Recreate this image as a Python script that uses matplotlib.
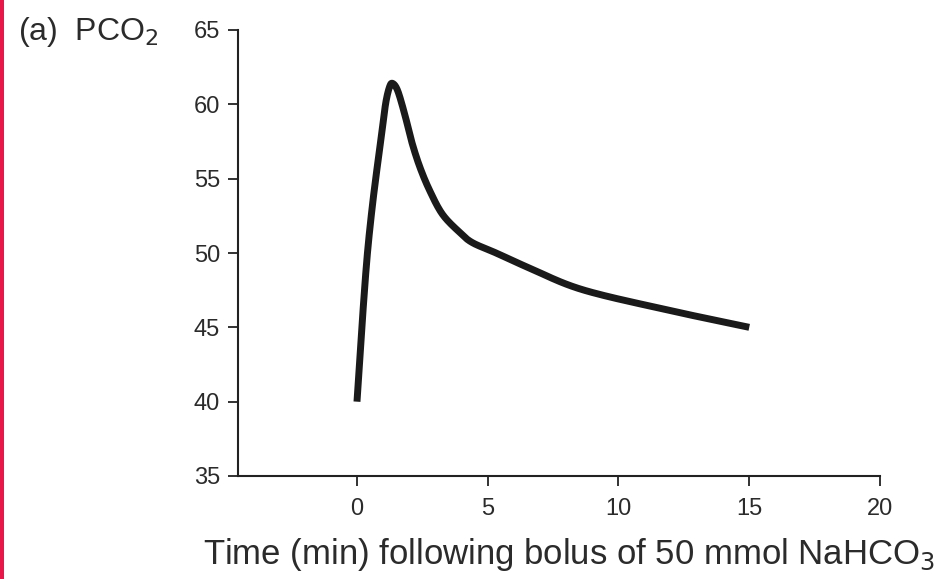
import matplotlib
matplotlib.use("Agg")
import matplotlib.pyplot as plt
import numpy as np
from matplotlib.patches import Rectangle

# Data
time_min = [0.0, 0.19, 0.38, 0.57, 0.76, 0.95, 1.10, 1.25, 1.37, 1.56, 1.83, 2.09, 2.40, 2.78,
            3.27, 3.92, 4.41, 5.32, 6.58, 8.59, 11.79, 15.0]
pco2 = [40.0, 45.1, 49.6, 52.9, 55.6, 58.1, 60.1, 61.2, 61.4, 60.9, 59.3, 57.5, 55.8, 54.2,
        52.6, 51.4, 50.7, 50.0, 49.0, 47.55, 46.2, 45.0]
x_ticks = [0, 5, 10, 15, 20]
y_ticks = [35, 40, 45, 50, 55, 60, 65]

plt.rcParams['font.family'] = ['Liberation Sans', 'DejaVu Sans']
text_col = '#2b2b2b'

fig = plt.figure(figsize=(9.38, 5.79), dpi=100)
ax = fig.add_axes([238/938, 1-476/579, (880-238)/938, (476-30)/579])

# Catmull-Rom smoothing through the read points
pts = np.column_stack([time_min, pco2])
ext = np.vstack([pts[0], pts, pts[-1]])
xs, ys = [], []
for i in range(1, len(ext)-2):
    p0, p1, p2, p3 = ext[i-1], ext[i], ext[i+1], ext[i+2]
    for s in np.linspace(0, 1, 20, endpoint=False):
        s2, s3 = s*s, s*s*s
        pt = 0.5*((2*p1) + (-p0+p2)*s + (2*p0-5*p1+4*p2-p3)*s2 + (-p0+3*p1-3*p2+p3)*s3)
        xs.append(pt[0]); ys.append(pt[1])
xs.append(pts[-1][0]); ys.append(pts[-1][1])

ax.plot(xs, ys, color='#1a1a1a', lw=5, solid_capstyle='butt', solid_joinstyle='round')

ax.set_xlim(-4.55, 20)
ax.set_ylim(35, 65)
ax.set_xticks(x_ticks)
ax.set_yticks(y_ticks)
for s in ['top', 'right']:
    ax.spines[s].set_visible(False)
for s in ['left', 'bottom']:
    ax.spines[s].set_linewidth(1.5)
    ax.spines[s].set_color('#222222')
ax.tick_params(axis='both', direction='out', length=7, width=1.3, color='#222222',
               labelsize=17, labelcolor=text_col)
ax.tick_params(axis='x', pad=9)
ax.tick_params(axis='y', pad=6)

ax.set_xlabel('Time (min) following bolus of 50 mmol NaHCO$_3$', fontsize=25,
              color=text_col)
ax.xaxis.set_label_coords(0.515, -0.135)

fig.text(18/938, 1-32/579, '(a)  PCO$_2$', fontsize=23, color=text_col, va='center', ha='left')

fig.patches.append(Rectangle((0, 0), 4/938, 1, transform=fig.transFigure,
                             facecolor='#e8174a', edgecolor='none'))

fig.savefig('out.png', dpi=100)
